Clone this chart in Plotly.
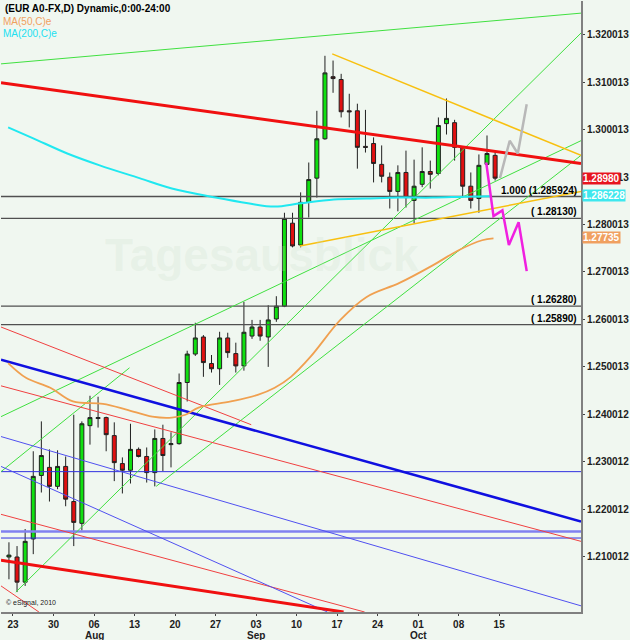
import plotly.graph_objects as go

# daily EUR/USD bars, 22 Jul 2010 - 14 Oct 2010 (bar index 0..60)
opens = [1.2099, 1.2099, 1.2046, 1.2137, 1.2271, 1.2288, 1.2248, 1.2290, 1.2216, 1.2170,
         1.2376, 1.2391, 1.2393, 1.2355, 1.2296, 1.2282, 1.2326, 1.2311, 1.2277, 1.2349,
         1.2336, 1.2338, 1.2467, 1.2527, 1.2563, 1.2507, 1.2496, 1.2561, 1.2528, 1.2502,
         1.2565, 1.2584, 1.2563, 1.2601, 1.2628, 1.2803, 1.2757, 1.2847, 1.2898, 1.2981,
         1.3112, 1.3106, 1.3040, 1.3040, 1.2965, 1.2971, 1.2927, 1.2900, 1.2870, 1.2910,
         1.2851, 1.2885, 1.2912, 1.2908, 1.3013, 1.3015, 1.2963, 1.2881, 1.2855, 1.2927,
         1.2946]
highs = [1.2130, 1.2122, 1.2158, 1.2322, 1.2385, 1.2326, 1.2324, 1.2311, 1.2399, 1.2385,
         1.2439, 1.2437, 1.2395, 1.2383, 1.2309, 1.2380, 1.2330, 1.2330, 1.2368, 1.2378,
         1.2362, 1.2486, 1.2534, 1.2593, 1.2567, 1.2525, 1.2574, 1.2572, 1.2551, 1.2637,
         1.2599, 1.2599, 1.2630, 1.2649, 1.2825, 1.2825, 1.2868, 1.2931, 1.3040, 1.3156,
         1.3146, 1.3118, 1.3076, 1.3055, 1.3042, 1.2984, 1.2967, 1.2910, 1.2925, 1.2956,
         1.2937, 1.2963, 1.2935, 1.3026, 1.3066, 1.3021, 1.2965, 1.2910, 1.2948, 1.2988,
         1.2956]
lows = [1.2052, 1.2025, 1.2038, 1.2105, 1.2235, 1.2216, 1.2242, 1.2206, 1.2122, 1.2155,
        1.2336, 1.2372, 1.2322, 1.2259, 1.2233, 1.2254, 1.2309, 1.2256, 1.2248, 1.2280,
        1.2288, 1.2336, 1.2427, 1.2523, 1.2479, 1.2488, 1.2462, 1.2519, 1.2488, 1.2492,
        1.2559, 1.2555, 1.2500, 1.2595, 1.2626, 1.2752, 1.2752, 1.2815, 1.2857, 1.2979,
        1.3078, 1.3026, 1.3005, 1.2918, 1.2952, 1.2889, 1.2889, 1.2834, 1.2828, 1.2836,
        1.2803, 1.2879, 1.2876, 1.2904, 1.2990, 1.2935, 1.2857, 1.2834, 1.2825, 1.2925,
        1.2893]
closes = [1.2103, 1.2046, 1.2132, 1.2269, 1.2313, 1.2248, 1.2290, 1.2221, 1.2172, 1.2380,
          1.2393, 1.2393, 1.2357, 1.2298, 1.2282, 1.2326, 1.2311, 1.2277, 1.2349, 1.2313,
          1.2338, 1.2467, 1.2527, 1.2561, 1.2509, 1.2496, 1.2561, 1.2530, 1.2502, 1.2573,
          1.2584, 1.2565, 1.2599, 1.2628, 1.2813, 1.2755, 1.2847, 1.2895, 1.2981, 1.3120,
          1.3108, 1.3038, 1.3038, 1.2963, 1.2963, 1.2929, 1.2902, 1.2870, 1.2910, 1.2857,
          1.2881, 1.2912, 1.2906, 1.3009, 1.3024, 1.2963, 1.2881, 1.2851, 1.2925, 1.2950,
          1.2898]

ma50_x = [-0.1, 2.1, 5.1, 7.9, 11.6, 14.5, 17.7, 20.1, 21.8, 23.4, 27.4, 30.7, 32.8, 34.8,
          37.2, 40.9, 44.1, 48.2, 52.3, 55.5, 58.4, 59.8]
ma50_y = [1.2508, 1.2477, 1.2456, 1.2427, 1.2422, 1.2410, 1.2395, 1.2393, 1.2399, 1.2414,
          1.2427, 1.2441, 1.2456, 1.2479, 1.2521, 1.2599, 1.2647, 1.2677, 1.2714, 1.2746,
          1.2767, 1.2771]
ma200_x = [-0.1, 3.0, 7.2, 11.2, 16.1, 20.1, 25.5, 29.5, 32.8, 36.0, 40.1, 44.1, 48.2,
           52.3, 56.3, 59.6]
ma200_y = [1.3005, 1.2982, 1.2950, 1.2925, 1.2898, 1.2876, 1.2857, 1.2845, 1.2838, 1.2845,
           1.2853, 1.2855, 1.2857, 1.2857, 1.2859, 1.2860]

# drawn trendlines: [x0, x1], [y0, y1]
green_lines = [([-0.98, 70.6], [1.3139, 1.3246]),
               ([-0.98, 14.88], [1.2279, 1.2498]),
               ([-0.98, 70.6], [1.2395, 1.2977]),
               ([0.85, 70.6], [1.2025, 1.3204]),
               ([18.17, 70.6], [1.2248, 1.2946])]
red_thick_lines = [([-0.98, 70.6], [1.3099, 1.2929]),
                   ([-0.98, 41.3], [1.2092, 1.1983])]
red_thin_lines = [([-0.98, 29.9], [1.2584, 1.2378]),
                  ([-0.98, 70.6], [1.2460, 1.2132]),
                  ([-0.98, 43.9], [1.2189, 1.1983]),
                  ([-0.98, 3.7], [1.2038, 1.1983])]
blue_thick_lines = [([-0.98, 70.6], [1.2515, 1.2174])]
blue_thin_lines = [([-0.98, 70.6], [1.2353, 1.1996]),
                   ([-0.98, 39.3], [1.2290, 1.1983])]
yellow_lines = [([39.9, 70.6], [1.3160, 1.2946]),
                ([35.9, 70.6], [1.2755, 1.2870])]
blue_levels = [1.2279, 1.2139]
blue_level_wide = 1.2153
gray_levels = [1.285924, 1.28130, 1.26280, 1.25890]
gray_level_text = ["1.000 (1.285924)", "( 1.28130)", "( 1.26280)", "( 1.25890)"]

up_path_x = [60.6, 61.8, 62.8, 63.9]
up_path_y = [1.2898, 1.2977, 1.2950, 1.3054]
down_path_x = [58.9, 59.8, 60.9, 61.7, 62.9, 63.9]
down_path_y = [1.2931, 1.2818, 1.2830, 1.2757, 1.2805, 1.2702]

tick_pos = [0.5 + 5 * k for k in range(13)]
tick_text = ["23", "30", "06", "13", "20", "27", "03", "10", "17", "24", "01", "08", "15"]
month_pos = [10.5, 30.5, 50.5]
month_text = ["Aug", "Sep", "Oct"]
ytick_vals = [1.320013 - 0.01 * k for k in range(12)]
ytick_text = ["%.6f" % (v if v > 1.245 else v - 0.000001) for v in ytick_vals]

tags = [(1.28980, "1.28980", "#e8141e"), (1.286228, "1.286228", "#3ee8ee"),
        (1.27735, "1.27735", "#f0a060")]

fig = go.Figure()


def add_lines(lines, color, width):
    for xs, ys in lines:
        fig.add_trace(go.Scatter(x=xs, y=ys, mode="lines", line=dict(color=color, width=width),
                                 hoverinfo="skip", showlegend=False))


for lv in gray_levels:
    fig.add_trace(go.Scatter(x=[-0.98, 70.6], y=[lv, lv], mode="lines",
                             line=dict(color="#505050", width=1.3), showlegend=False))
for lv in blue_levels:
    fig.add_trace(go.Scatter(x=[-0.98, 70.6], y=[lv, lv], mode="lines",
                             line=dict(color="#3030e0", width=1), showlegend=False))
fig.add_trace(go.Scatter(x=[-0.98, 70.6], y=[blue_level_wide] * 2, mode="lines",
                         line=dict(color="#8080f0", width=2.5), showlegend=False))

add_lines(green_lines, "#40e040", 1)
add_lines(red_thin_lines, "#f04040", 1)
add_lines(blue_thin_lines, "#5050f0", 1)
add_lines(red_thick_lines, "#f01010", 3)
add_lines(blue_thick_lines, "#1010e0", 2.5)
add_lines(yellow_lines, "#f8c010", 1.5)

fig.add_trace(go.Scatter(x=ma200_x, y=ma200_y, mode="lines", line=dict(color="#20e8f0", width=2, shape="spline"),
                         showlegend=False))
fig.add_trace(go.Scatter(x=ma50_x, y=ma50_y, mode="lines", line=dict(color="#f0a050", width=1.8, shape="spline"),
                         showlegend=False))

fig.add_trace(go.Candlestick(
    x=list(range(len(opens))), open=opens, high=highs, low=lows, close=closes,
    increasing=dict(fillcolor="#10e010", line=dict(color="#202020", width=1)),
    decreasing=dict(fillcolor="#e01010", line=dict(color="#202020", width=1)),
    whiskerwidth=0, showlegend=False))

fig.add_trace(go.Scatter(x=up_path_x, y=up_path_y, mode="lines", line=dict(color="#b8b8b8", width=2.5),
                         showlegend=False))
fig.add_trace(go.Scatter(x=down_path_x, y=down_path_y, mode="lines", line=dict(color="#f020e0", width=2.5),
                         showlegend=False))

for lv, txt in zip(gray_levels, gray_level_text):
    fig.add_annotation(x=70.4, y=lv, text="<b>%s</b>" % txt, showarrow=False, xanchor="right", yanchor="bottom",
                       font=dict(family="Liberation Sans", size=10, color="#000000"), yshift=-1)

for lv, txt, col in tags:
    fig.add_annotation(xref="paper", x=1.0, y=lv, text="<b>%s</b>" % txt, showarrow=False,
                       xanchor="left", bgcolor=col, borderpad=0, xshift=1,
                       font=dict(family="Liberation Sans", size=10, color="white"))

for xp, txt in zip(month_pos, month_text):
    fig.add_annotation(x=xp, yref="paper", y=0, yanchor="top", yshift=-16, text="<b>%s</b>" % txt,
                       showarrow=False, font=dict(family="Liberation Sans", size=10, color="#202020"))

fig.add_annotation(xref="paper", yref="paper", x=0.45, y=0.585, text="<b>Tagesausblick</b>",
                   showarrow=False, font=dict(family="Liberation Sans", size=46, color="rgba(200,220,200,0.22)"))
fig.add_annotation(xref="paper", yref="paper", x=0.003, y=1.0, xanchor="left", yanchor="top",
                   text="<b>(EUR A0-FX,D) Dynamic,0:00-24:00</b>", showarrow=False,
                   font=dict(family="Liberation Sans", size=10, color="black"))
fig.add_annotation(xref="paper", yref="paper", x=0.0, y=0.979, xanchor="left", yanchor="top",
                   text="MA(50,C)e", showarrow=False, font=dict(family="Liberation Sans", size=10, color="#f0a060"))
fig.add_annotation(xref="paper", yref="paper", x=0.0, y=0.959, xanchor="left", yanchor="top",
                   text="MA(200,C)e", showarrow=False, font=dict(family="Liberation Sans", size=10, color="#20e0f0"))
fig.add_annotation(xref="paper", yref="paper", x=0.005, y=0.005, xanchor="left", yanchor="bottom",
                   text="© eSignal, 2010", showarrow=False, font=dict(family="Liberation Sans", size=7, color="#202020"))

fig.update_layout(
    width=630, height=640, margin=dict(l=1, r=43, t=1, b=28),
    paper_bgcolor="#f0f7f0", plot_bgcolor="#f0f7f0",
    xaxis=dict(range=[-0.98, 70.6], tickvals=tick_pos, ticktext=["<b>%s</b>" % t for t in tick_text],
               showgrid=False, rangeslider=dict(visible=False), ticks="outside", ticklen=2,
               tickcolor="#404040", showline=True, linecolor="#808080", linewidth=2, zeroline=False,
               tickfont=dict(family="Liberation Sans", size=10, color="#202020")),
    yaxis=dict(range=[1.1983, 1.32716], side="right", tickvals=ytick_vals,
               ticktext=["<b>%s</b>" % t for t in ytick_text],
               showgrid=False, ticks="outside", ticklen=2, tickcolor="#404040",
               showline=True, linecolor="#808080", linewidth=2, zeroline=False,
               tickfont=dict(family="Liberation Sans", size=10, color="#202020")),
    showlegend=False,
)

fig.write_html("out.html", config={"displayModeBar": False},
               post_script="document.body.style.margin='0';document.body.style.overflow='hidden';")
